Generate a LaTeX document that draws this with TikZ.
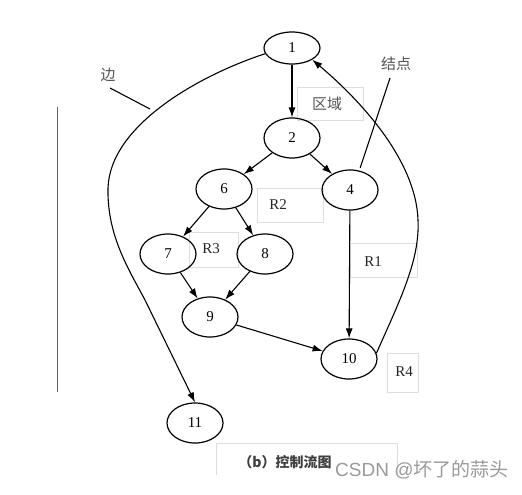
\documentclass[tikz,border=0pt]{standalone}
\usepackage{fontspec}
\setmainfont{Liberation Serif}
\newfontfamily\cjk{Noto Sans CJK SC}
\newfontfamily\wmfont{Liberation Sans}
\usetikzlibrary{arrows.meta,shapes.geometric,calc}
\definecolor{boxgray}{HTML}{DDDDDD}
\definecolor{lblgray}{HTML}{555555}
\definecolor{wmgray}{HTML}{9A9A9A}
\begin{document}
\begin{tikzpicture}[x=1pt,y=-1pt,
  vnode/.style={draw, ellipse, line width=1.2pt, minimum width=56pt, minimum height=40pt, inner sep=0pt, font=\fontsize{15}{17}\selectfont},
  edge/.style={line width=1.1pt, -{Latex[length=10pt,width=7pt]}},
  plain/.style={line width=1.1pt},
  rbox/.style={draw=boxgray, line width=0.8pt},
  rlabel/.style={font=\fontsize{15}{17}\selectfont, text=black!85},
  clabel/.style={font=\cjk\fontsize{15}{17}\selectfont, text=lblgray}
]
\fill[white] (0,0) rectangle (522,495);
\useasboundingbox (0,0) rectangle (522,495);

% region boxes
\draw[rbox] (297,87) rectangle (363,120);
\draw[rbox] (257,188) rectangle (323,222);
\draw[rbox] (189,232) rectangle (238,267);
\draw[rbox] (350,243) rectangle (417,277);
\draw[rbox] (387,353) rectangle (418,392);
\draw[rbox] (216,475) -- (216,443) -- (397,443) -- (397,475);

% left vertical line
\coordinate (vl1) at (57,107);
\coordinate (vl2) at (57,392);
\draw[line width=0.8pt, black!60] (vl1) -- (vl2);

% nodes
\node[vnode, minimum height=32pt] (n1) at (292,48) {1};
\node[vnode] (n2) at (292,138) {2};
\node[vnode] (n6) at (224,189) {6};
\node[vnode] (n4) at (350,190) {4};
\node[vnode] (n7) at (168,254) {7};
\node[vnode] (n8) at (265,254) {8};
\node[vnode] (n9) at (210,317) {9};
\node[vnode] (n10) at (349,359) {10};
\node[vnode] (n11) at (195,423) {11};

% region labels
\node[clabel] (lqy) at (327,104) {区域};
\node[rlabel] (lr2) at (278,205) {R2};
\node[rlabel] (lr3) at (211,249) {R3};
\node[rlabel] (lr1) at (373,262) {R1};
\node[rlabel] (lr4) at (404,372) {R4};

% edges
\draw[edge] (n1) -- (n2);
\draw[edge] (n2) -- (n6);
\draw[edge] (n2) -- (n4);
\draw[edge] (n6) -- (n7);
\draw[edge] (n6) -- (n8);
\draw[edge] (n7) -- (n9);
\draw[edge] (n8) -- (n9);
\draw[edge] (n9) -- (n10);
\draw[edge] (n4) -- (n10);
\draw[edge] (n1.192) .. controls (200,75) and (110,125) .. (108,188)
  .. controls (107,235) and (128,268) .. (145,300) -- (n11.north);
\draw[edge] (n10.12) .. controls (400,300) and (420,260) .. (418,220)
  .. controls (416,160) and (360,100) .. (n1.-30);

% annotations
\node[clabel] (lbian) at (108,75) {边};
\coordinate (bianstart) at (110,88);
\coordinate (bianend) at (150,109);
\draw[plain] (bianstart) -- (bianend);
\node[clabel] (ljd) at (396,64) {结点};
\coordinate (jdstart) at (390,78);
\draw[plain] (jdstart) -- ($(n4.62)+(0,-3)$);

% caption
\node[font=\cjk\bfseries\fontsize{14}{16}\selectfont, text=black!75] (cap) at (285,462) {（b）控制流图};

% watermark
\node[anchor=west, text=wmgray, inner sep=0pt] (wm) at (335,470) {\wmfont\fontsize{19}{21}\selectfont CSDN @\cjk 坏了的蒜头};
\end{tikzpicture}
\end{document}
